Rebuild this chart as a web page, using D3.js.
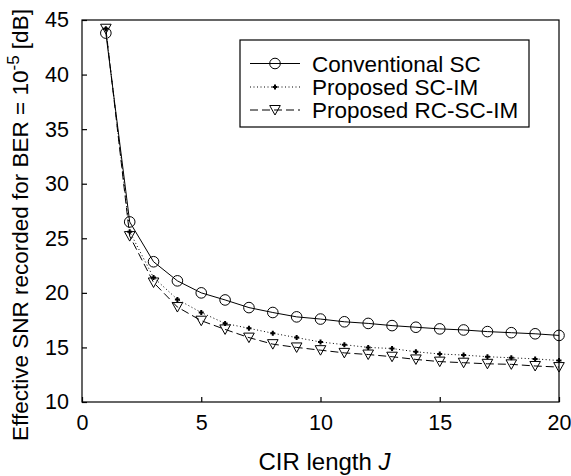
<!DOCTYPE html>
<html><head><meta charset="utf-8">
<script src="https://cdn.jsdelivr.net/npm/d3@7"></script>
<style>body{margin:0;background:#fff}svg{display:block}text{font-family:"Liberation Sans",Arial,sans-serif;fill:#000}</style>
</head><body><svg id="c" width="571" height="476"></svg>
<script>
const J = d3.range(1, 21);
const conventionalSC = [43.8,26.5,22.85,21.1,20.0,19.35,18.65,18.2,17.8,17.6,17.35,17.2,17.0,16.85,16.7,16.6,16.45,16.35,16.25,16.1];
const proposedSCIM = [44.2,25.6,21.4,19.4,18.2,17.2,16.75,16.3,15.9,15.5,15.25,15.0,14.9,14.6,14.4,14.3,14.15,14.05,13.95,13.8];
const proposedRCSCIM = [44.2,25.2,20.95,18.7,17.45,16.65,15.9,15.3,15.0,14.75,14.5,14.35,14.15,13.9,13.7,13.6,13.5,13.45,13.3,13.2];
const xTicks = [0,5,10,15,20];
const yTicks = [10,15,20,25,30,35,40,45];
const legendLabels = ["Conventional SC","Proposed SC-IM","Proposed RC-SC-IM"];

const svg = d3.select("#c");
const L=82,R=559,T=20,B=402;
const x = d3.scaleLinear().domain([0,20]).range([L,R]);
const y = d3.scaleLinear().domain([10,45]).range([B,T]);

// frame
svg.append("rect").attr("x",L).attr("y",T).attr("width",R-L).attr("height",B-T)
  .attr("fill","none").attr("stroke","#000").attr("stroke-width",1.2);

// axes
const xa = svg.append("g").attr("transform",`translate(0,${B})`)
  .call(d3.axisBottom(x).tickValues(xTicks).tickSize(-5).tickPadding(13).tickFormat(d3.format("d")));
const ya = svg.append("g").attr("transform",`translate(${L},0)`)
  .call(d3.axisLeft(y).tickValues(yTicks).tickSize(-5).tickPadding(13).tickFormat(d3.format("d")));
[xa,ya].forEach(a=>{a.select(".domain").remove();a.selectAll("line").attr("stroke","#000").attr("stroke-width",1.2);
  a.selectAll("text").attr("font-size",21.5).attr("font-family","Liberation Sans, Arial, sans-serif").attr("fill","#000");});

// axis titles
const xt = svg.append("text").attr("x",(L+R)/2+4).attr("y",470).attr("text-anchor","middle").attr("font-size",24);
xt.append("tspan").text("CIR length ");
xt.append("tspan").attr("font-style","italic").text("J");
const yt = svg.append("text").attr("transform","translate(28,225) rotate(-90)").attr("text-anchor","middle").attr("font-size",22.5);
yt.append("tspan").text("Effective SNR recorded for BER = 10");
yt.append("tspan").attr("dy",-9).attr("font-size",17).text("-5");
yt.append("tspan").attr("dy",9).text(" [dB]");

const series = [
  {vals:conventionalSC, dash:null, marker:"circle"},
  {vals:proposedSCIM, dash:"1,2.5", marker:"plus"},
  {vals:proposedRCSCIM, dash:"8,4", marker:"tri"}
];
const line = d3.line().x((d,i)=>x(J[i])).y(d=>y(d));
function drawMarker(g, type, cx, cy){
  if(type==="circle") g.append("circle").attr("cx",cx).attr("cy",cy).attr("r",5.3).attr("fill","none").attr("stroke","#000").attr("stroke-width",1);
  else if(type==="plus") g.append("path").attr("d",`M${cx-2.5},${cy}H${cx+2.5}M${cx},${cy-2.5}V${cy+2.5}`).attr("stroke","#000").attr("stroke-width",2);
  else g.append("path").attr("d",`M${cx-5.3},${cy-4.5}L${cx+5.3},${cy-4.5}L${cx},${cy+5}Z`).attr("fill","none").attr("stroke","#000").attr("stroke-width",1);
}
series.forEach(s=>{
  const p = svg.append("path").datum(s.vals).attr("d",line).attr("fill","none").attr("stroke","#000").attr("stroke-width",1);
  if(s.dash) p.attr("stroke-dasharray",s.dash);
  const g = svg.append("g");
  s.vals.forEach((v,i)=>drawMarker(g,s.marker,x(J[i]),y(v)));
});

// legend
const lg = svg.append("g");
lg.append("rect").attr("x",240).attr("y",40).attr("width",289).attr("height",87).attr("fill","#fff").attr("stroke","#000").attr("stroke-width",1.2);
const rows=[63.5,87,110];
series.forEach((s,i)=>{
  const p = lg.append("line").attr("x1",250).attr("x2",300).attr("y1",rows[i]).attr("y2",rows[i]).attr("stroke","#000").attr("stroke-width",1);
  if(s.dash) p.attr("stroke-dasharray",s.dash);
  drawMarker(lg,s.marker,275,rows[i]);
  lg.append("text").attr("x",312).attr("y",rows[i]+8).attr("font-size",22.5).text(legendLabels[i]);
});
</script></body></html>
